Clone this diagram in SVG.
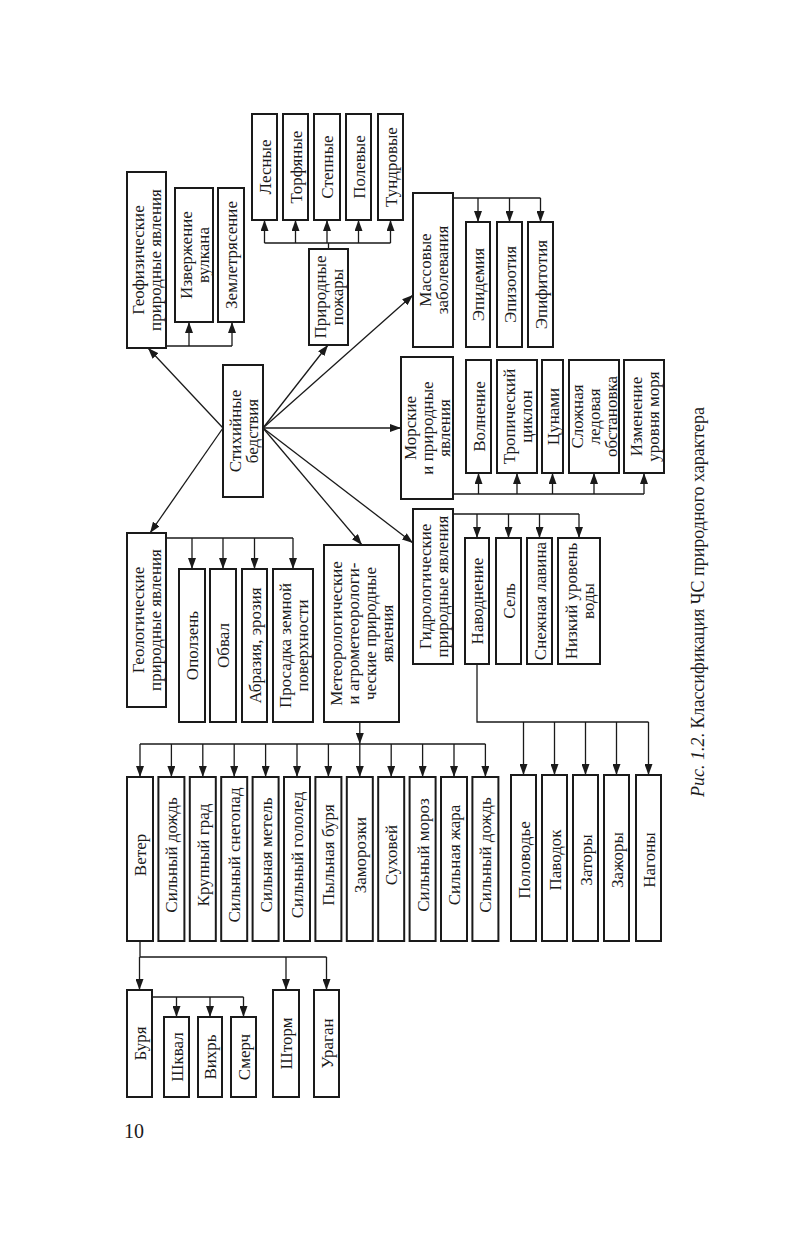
<svg xmlns="http://www.w3.org/2000/svg" width="786" height="1241" viewBox="0 0 786 1241">
<style>
.b{fill:#fff;stroke:#1a1a1a;stroke-width:2}
.t{font-family:"Liberation Serif","Times New Roman",serif;font-size:17px;fill:#1a1a1a;text-anchor:middle}
.c{fill:none;stroke:#1a1a1a;stroke-width:1.3}
.a{fill:none;stroke:#1a1a1a;stroke-width:1.3;marker-end:url(#ah)}
</style>
<defs>
<marker id="ah" markerUnits="userSpaceOnUse" markerWidth="11" markerHeight="8" refX="11" refY="4" orient="auto">
<path d="M0,0 L11,4 L0,8 z" fill="#1a1a1a"/>
</marker>
</defs>
<rect width="786" height="1241" fill="#fff"/>

<g id="connectors">
<line class="a" x1="223" y1="428" x2="148" y2="348"/>
<line class="a" x1="223" y1="428" x2="150" y2="533"/>
<line class="a" x1="263" y1="428" x2="328" y2="345"/>
<line class="a" x1="263" y1="428" x2="413" y2="295"/>
<line class="a" x1="263" y1="428" x2="401" y2="428"/>
<line class="a" x1="263" y1="428" x2="362" y2="545"/>
<line class="a" x1="263" y1="428" x2="413" y2="543"/>
<path class="c" d="M166,346 H232"/>
<line class="a" x1="189" y1="346" x2="189" y2="322"/>
<line class="a" x1="232" y1="346" x2="232" y2="322"/>
<path class="c" d="M328.5,249 V243 M264.5,243 H390.5"/>
<line class="a" x1="264.5" y1="243" x2="264.5" y2="220"/>
<line class="a" x1="295.5" y1="243" x2="295.5" y2="220"/>
<line class="a" x1="327" y1="243" x2="327" y2="220"/>
<line class="a" x1="358.5" y1="243" x2="358.5" y2="220"/>
<line class="a" x1="390.5" y1="243" x2="390.5" y2="220"/>
<path class="c" d="M453,198 H540.5"/>
<line class="a" x1="478" y1="198" x2="478" y2="222"/>
<line class="a" x1="509.5" y1="198" x2="509.5" y2="222"/>
<line class="a" x1="540.5" y1="198" x2="540.5" y2="222"/>
<path class="c" d="M453,494 H644"/>
<line class="a" x1="478.5" y1="494" x2="478.5" y2="473"/>
<line class="a" x1="517" y1="494" x2="517" y2="473"/>
<line class="a" x1="552.5" y1="494" x2="552.5" y2="473"/>
<line class="a" x1="594" y1="494" x2="594" y2="473"/>
<line class="a" x1="644" y1="494" x2="644" y2="473"/>
<path class="c" d="M453,514 H579"/>
<line class="a" x1="477" y1="514" x2="477" y2="538"/>
<line class="a" x1="508.5" y1="514" x2="508.5" y2="538"/>
<line class="a" x1="539.5" y1="514" x2="539.5" y2="538"/>
<line class="a" x1="579" y1="514" x2="579" y2="538"/>
<path class="c" d="M477,664 V722 H648.5"/>
<line class="a" x1="523.5" y1="722" x2="523.5" y2="775"/>
<line class="a" x1="554.5" y1="722" x2="554.5" y2="775"/>
<line class="a" x1="585.5" y1="722" x2="585.5" y2="775"/>
<line class="a" x1="616.5" y1="722" x2="616.5" y2="775"/>
<line class="a" x1="648.5" y1="722" x2="648.5" y2="775"/>
<path class="c" d="M166,538 H293"/>
<line class="a" x1="192" y1="538" x2="192" y2="569"/>
<line class="a" x1="223" y1="538" x2="223" y2="569"/>
<line class="a" x1="254.5" y1="538" x2="254.5" y2="569"/>
<line class="a" x1="293" y1="538" x2="293" y2="569"/>
<line class="a" x1="359.8" y1="722" x2="359.8" y2="744"/>
<path class="c" d="M140,744 H485.4"/>
<line class="a" x1="140" y1="744" x2="140" y2="777"/>
<line class="a" x1="171.4" y1="744" x2="171.4" y2="777"/>
<line class="a" x1="202.8" y1="744" x2="202.8" y2="777"/>
<line class="a" x1="234.2" y1="744" x2="234.2" y2="777"/>
<line class="a" x1="265.6" y1="744" x2="265.6" y2="777"/>
<line class="a" x1="297" y1="744" x2="297" y2="777"/>
<line class="a" x1="328.4" y1="744" x2="328.4" y2="777"/>
<line class="a" x1="359.8" y1="744" x2="359.8" y2="777"/>
<line class="a" x1="391.2" y1="744" x2="391.2" y2="777"/>
<line class="a" x1="422.6" y1="744" x2="422.6" y2="777"/>
<line class="a" x1="454" y1="744" x2="454" y2="777"/>
<line class="a" x1="485.4" y1="744" x2="485.4" y2="777"/>
<path class="c" d="M140,941 V957 H326.5"/>
<line class="a" x1="139.5" y1="957" x2="139.5" y2="990"/>
<line class="a" x1="286" y1="957" x2="286" y2="990"/>
<line class="a" x1="326.5" y1="957" x2="326.5" y2="990"/>
<path class="c" d="M152,997 H243.5"/>
<line class="a" x1="176.5" y1="997" x2="176.5" y2="1017"/>
<line class="a" x1="210" y1="997" x2="210" y2="1017"/>
<line class="a" x1="243.5" y1="997" x2="243.5" y2="1017"/>
</g>

<g id="n-geofiz"><rect class="b" x="127" y="172" width="39" height="176"/>
<text class="t" transform="translate(146.5,260) rotate(-90)"><tspan x="0" y="-2.5">Геофизические</tspan><tspan x="0" y="14.5">природные явления</tspan></text></g>
<g id="n-izverzh"><rect class="b" x="175" y="188" width="38" height="134"/>
<text class="t" transform="translate(194,255) rotate(-90)"><tspan x="0" y="-2.5">Извержение</tspan><tspan x="0" y="14.5">вулкана</tspan></text></g>
<g id="n-zemletr"><rect class="b" x="218" y="188" width="26" height="134"/>
<text class="t" transform="translate(231,255) rotate(-90)"><tspan x="0" y="6">Землетрясение</tspan></text></g>

<g id="n-lesnye"><rect class="b" x="252" y="114" width="25" height="106"/>
<text class="t" transform="translate(264.5,167) rotate(-90)" y="6">Лесные</text></g>
<g id="n-torf"><rect class="b" x="283" y="114" width="25" height="106"/>
<text class="t" transform="translate(295.5,167) rotate(-90)" y="6">Торфяные</text></g>
<g id="n-step"><rect class="b" x="314" y="114" width="26" height="106"/>
<text class="t" transform="translate(327,167) rotate(-90)" y="6">Степные</text></g>
<g id="n-polev"><rect class="b" x="346" y="114" width="25" height="106"/>
<text class="t" transform="translate(358.5,167) rotate(-90)" y="6">Полевые</text></g>
<g id="n-tundr"><rect class="b" x="378" y="114" width="25" height="106"/>
<text class="t" transform="translate(390.5,167) rotate(-90)" y="6">Тундровые</text></g>
<g id="n-pozhary"><rect class="b" x="309" y="249" width="39" height="96"/>
<text class="t" transform="translate(328.5,297) rotate(-90)"><tspan x="0" y="-2.5">Природные</tspan><tspan x="0" y="14.5">пожары</tspan></text></g>

<g id="n-massovye"><rect class="b" x="413" y="193" width="40" height="154"/>
<text class="t" transform="translate(433,270) rotate(-90)"><tspan x="0" y="-2.5">Массовые</tspan><tspan x="0" y="14.5">заболевания</tspan></text></g>
<g id="n-epidem"><rect class="b" x="466" y="222" width="24" height="125"/>
<text class="t" transform="translate(478,284.5) rotate(-90)" y="6">Эпидемия</text></g>
<g id="n-epizoot"><rect class="b" x="497" y="222" width="25" height="125"/>
<text class="t" transform="translate(509.5,284.5) rotate(-90)" y="6">Эпизоотия</text></g>
<g id="n-epifit"><rect class="b" x="528" y="222" width="25" height="125"/>
<text class="t" transform="translate(540.5,284.5) rotate(-90)" y="6">Эпифитотия</text></g>

<g id="n-stikh"><rect class="b" x="223" y="365" width="40" height="132"/>
<text class="t" transform="translate(243,431) rotate(-90)"><tspan x="0" y="-2.5">Стихийные</tspan><tspan x="0" y="14.5">бедствия</tspan></text></g>

<g id="n-morskie"><rect class="b" x="401" y="357" width="52" height="142"/>
<text class="t" transform="translate(427,428) rotate(-90)"><tspan x="0" y="-11">Морские</tspan><tspan x="0" y="6">и природные</tspan><tspan x="0" y="23">явления</tspan></text></g>
<g id="n-volnenie"><rect class="b" x="466" y="360" width="25" height="113"/>
<text class="t" transform="translate(478.5,416.5) rotate(-90)" y="6">Волнение</text></g>
<g id="n-tropich"><rect class="b" x="497" y="360" width="40" height="113"/>
<text class="t" transform="translate(517,416.5) rotate(-90)"><tspan x="0" y="-2.5">Тропический</tspan><tspan x="0" y="14.5">циклон</tspan></text></g>
<g id="n-tsunami"><rect class="b" x="542" y="360" width="21" height="113"/>
<text class="t" transform="translate(552.5,416.5) rotate(-90)" y="6">Цунами</text></g>
<g id="n-ledovaya"><rect class="b" x="569" y="360" width="50" height="113"/>
<text class="t" transform="translate(594,416.5) rotate(-90)"><tspan x="0" y="-11">Сложная</tspan><tspan x="0" y="6">ледовая</tspan><tspan x="0" y="23">обстановка</tspan></text></g>
<g id="n-uroven-morya"><rect class="b" x="624" y="360" width="40" height="113"/>
<text class="t" transform="translate(644,416.5) rotate(-90)"><tspan x="0" y="-2.5">Изменение</tspan><tspan x="0" y="14.5">уровня моря</tspan></text></g>

<g id="n-geolog"><rect class="b" x="127" y="533" width="39" height="174"/>
<text class="t" transform="translate(146.5,620) rotate(-90)"><tspan x="0" y="-2.5">Геологические</tspan><tspan x="0" y="14.5">природные явления</tspan></text></g>
<g id="n-opolzen"><rect class="b" x="179" y="569" width="26" height="153"/>
<text class="t" transform="translate(192,645.5) rotate(-90)" y="6">Оползень</text></g>
<g id="n-obval"><rect class="b" x="210" y="569" width="26" height="153"/>
<text class="t" transform="translate(223,645.5) rotate(-90)" y="6">Обвал</text></g>
<g id="n-abraziya"><rect class="b" x="242" y="569" width="25" height="153"/>
<text class="t" transform="translate(254.5,645.5) rotate(-90)" y="6">Абразия, эрозия</text></g>
<g id="n-prosadka"><rect class="b" x="273" y="569" width="40" height="153"/>
<text class="t" transform="translate(293,645.5) rotate(-90)"><tspan x="0" y="-2.5">Просадка земной</tspan><tspan x="0" y="14.5">поверхности</tspan></text></g>

<g id="n-meteo"><rect class="b" x="324" y="545" width="75" height="177"/>
<text class="t" transform="translate(361.5,633.5) rotate(-90)"><tspan x="0" y="-19.5">Метеорологические</tspan><tspan x="0" y="-2.5">и агрометеорологи-</tspan><tspan x="0" y="14.5">ческие природные</tspan><tspan x="0" y="31.5">явления</tspan></text></g>

<g id="n-gidro"><rect class="b" x="413" y="509" width="40" height="155"/>
<text class="t" transform="translate(433,586.5) rotate(-90)"><tspan x="0" y="-2.5">Гидрологические</tspan><tspan x="0" y="14.5">природные явления</tspan></text></g>
<g id="n-navodnenie"><rect class="b" x="465" y="538" width="24" height="126"/>
<text class="t" transform="translate(477,601) rotate(-90)" y="6">Наводнение</text></g>
<g id="n-sel"><rect class="b" x="496" y="538" width="25" height="126"/>
<text class="t" transform="translate(508.5,601) rotate(-90)" y="6">Сель</text></g>
<g id="n-lavina"><rect class="b" x="527" y="538" width="25" height="126"/>
<text class="t" transform="translate(539.5,601) rotate(-90)" y="6">Снежная лавина</text></g>
<g id="n-nizkiy"><rect class="b" x="558" y="538" width="42" height="126"/>
<text class="t" transform="translate(579,601) rotate(-90)"><tspan x="0" y="-2.5">Низкий уровень</tspan><tspan x="0" y="14.5">воды</tspan></text></g>

<g id="n-veter"><rect class="b" x="127" y="777" width="26" height="164"/>
<text class="t" transform="translate(140,855) rotate(-90)" y="6">Ветер</text></g>
<g id="n-dozhd1"><rect class="b" x="158.4" y="777" width="26" height="164"/>
<text class="t" transform="translate(171.4,855) rotate(-90)" y="6">Сильный дождь</text></g>
<g id="n-grad"><rect class="b" x="189.8" y="777" width="26" height="164"/>
<text class="t" transform="translate(202.8,855) rotate(-90)" y="6">Крупный град</text></g>
<g id="n-snegopad"><rect class="b" x="221.2" y="777" width="26" height="164"/>
<text class="t" transform="translate(234.2,855) rotate(-90)" y="6">Сильный снегопад</text></g>
<g id="n-metel"><rect class="b" x="252.6" y="777" width="26" height="164"/>
<text class="t" transform="translate(265.6,855) rotate(-90)" y="6">Сильная метель</text></g>
<g id="n-gololed"><rect class="b" x="284" y="777" width="26" height="164"/>
<text class="t" transform="translate(297,855) rotate(-90)" y="6">Сильный гололед</text></g>
<g id="n-pylnaya"><rect class="b" x="315.4" y="777" width="26" height="164"/>
<text class="t" transform="translate(328.4,855) rotate(-90)" y="6">Пыльная буря</text></g>
<g id="n-zamorozki"><rect class="b" x="346.8" y="777" width="26" height="164"/>
<text class="t" transform="translate(359.8,855) rotate(-90)" y="6">Заморозки</text></g>
<g id="n-sukhovey"><rect class="b" x="378.2" y="777" width="26" height="164"/>
<text class="t" transform="translate(391.2,855) rotate(-90)" y="6">Суховей</text></g>
<g id="n-moroz"><rect class="b" x="409.6" y="777" width="26" height="164"/>
<text class="t" transform="translate(422.6,855) rotate(-90)" y="6">Сильный мороз</text></g>
<g id="n-zhara"><rect class="b" x="441" y="777" width="26" height="164"/>
<text class="t" transform="translate(454,855) rotate(-90)" y="6">Сильная жара</text></g>
<g id="n-dozhd2"><rect class="b" x="472.4" y="777" width="26" height="164"/>
<text class="t" transform="translate(485.4,855) rotate(-90)" y="6">Сильный дождь</text></g>

<g id="n-polovodye"><rect class="b" x="511" y="775" width="25" height="166"/>
<text class="t" transform="translate(523.5,860) rotate(-90)" y="6">Половодье</text></g>
<g id="n-pavodok"><rect class="b" x="542" y="775" width="25" height="166"/>
<text class="t" transform="translate(554.5,860) rotate(-90)" y="6">Паводок</text></g>
<g id="n-zatory"><rect class="b" x="573" y="775" width="25" height="166"/>
<text class="t" transform="translate(585.5,860) rotate(-90)" y="6">Заторы</text></g>
<g id="n-zazhory"><rect class="b" x="604" y="775" width="25" height="166"/>
<text class="t" transform="translate(616.5,860) rotate(-90)" y="6">Зажоры</text></g>
<g id="n-nagony"><rect class="b" x="636" y="775" width="25" height="166"/>
<text class="t" transform="translate(648.5,860) rotate(-90)" y="6">Нагоны</text></g>

<g id="n-burya"><rect class="b" x="127" y="990" width="25" height="107"/>
<text class="t" transform="translate(139.5,1043.5) rotate(-90)" y="6">Буря</text></g>
<g id="n-shkval"><rect class="b" x="164" y="1017" width="25" height="80"/>
<text class="t" transform="translate(176.5,1057) rotate(-90)" y="6">Шквал</text></g>
<g id="n-vikhr"><rect class="b" x="198" y="1017" width="24" height="80"/>
<text class="t" transform="translate(210,1057) rotate(-90)" y="6">Вихрь</text></g>
<g id="n-smerch"><rect class="b" x="231" y="1017" width="25" height="80"/>
<text class="t" transform="translate(243.5,1057) rotate(-90)" y="6">Смерч</text></g>
<g id="n-shtorm"><rect class="b" x="273" y="990" width="26" height="107"/>
<text class="t" transform="translate(286,1043.5) rotate(-90)" y="6">Шторм</text></g>
<g id="n-uragan"><rect class="b" x="314" y="990" width="25" height="107"/>
<text class="t" transform="translate(326.5,1043.5) rotate(-90)" y="6">Ураган</text></g>

<text x="124" y="1138" font-family="Liberation Serif, serif" font-size="20" fill="#1a1a1a">10</text>
<text transform="translate(704,602) rotate(-90)" text-anchor="middle" font-family="Liberation Serif, serif" font-size="18" fill="#1a1a1a"><tspan font-style="italic">Рис.</tspan> <tspan font-style="italic">1.2</tspan>. Классификация ЧС природного характера</text>
</svg>
